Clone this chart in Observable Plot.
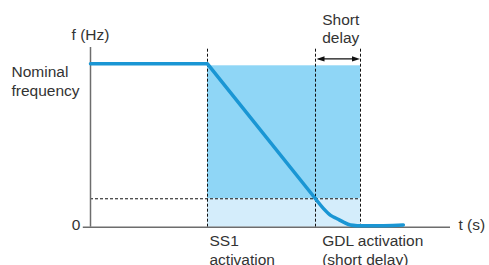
<!DOCTYPE html>
<html>
<head>
<meta charset="utf-8">
<script src="https://cdn.jsdelivr.net/npm/d3@7"></script>
<script src="https://cdn.jsdelivr.net/npm/@observablehq/plot@0.6"></script>
<style>
  html, body { margin: 0; padding: 0; background: #fff; }
</style>
</head>
<body>
<div id="chart"></div>
<script>
// ---- data (abstract units: t in s-units, f in Hz-units) ----
const nominalF = 50;
const thresholdF = 8.7;
const fillTopF = 49.4;
const arrowF = 51.5;
const tSS1 = 3.25;
const tGDL = 6.25;
const tDelayEnd = 7.5;
const tAxisEnd = 10;
const fAxisTop = 55;

const rampT = [0, 3.25, 6.25];
const rampF = [50, 50, 8.7];
const tailT = [6.25, 6.48, 6.67, 6.85, 7.04, 7.22, 8.69];
const tailF = [8.7, 5.6, 3.6, 2.6, 1.5, 0.7, 0.7];

const vLines = [tSS1, tGDL, tDelayEnd];

const ramp = rampT.map((t, i) => ({t, f: rampF[i]}));
const tail = tailT.map((t, i) => ({t, f: tailF[i]}));

const font = "Liberation Sans, Arial, Helvetica, sans-serif";
const txt = "#333";
const blue = "#1a96d4";

const headRight = { draw(ctx) { ctx.moveTo(0, 0); ctx.lineTo(-8, -2.6); ctx.lineTo(-8, 2.6); ctx.closePath(); } };
const headLeft  = { draw(ctx) { ctx.moveTo(0, 0); ctx.lineTo(8, -2.6); ctx.lineTo(8, 2.6); ctx.closePath(); } };

const chart = Plot.plot({
  width: 489,
  height: 265,
  marginLeft: 90,
  marginRight: 39,
  marginTop: 47,
  marginBottom: 38.3,
  x: {domain: [0, tAxisEnd], axis: null},
  y: {domain: [0, fAxisTop], axis: null},
  style: {fontFamily: font, fontSize: "15.5px", color: txt, background: "#fff"},
  marks: [
    Plot.rect([{x1: tSS1, x2: tDelayEnd, y1: thresholdF, y2: fillTopF}], {x1: "x1", x2: "x2", y1: "y1", y2: "y2", fill: "#8fd6f6"}),
    Plot.rect([{x1: tSS1, x2: tDelayEnd, y1: 0, y2: thresholdF}], {x1: "x1", x2: "x2", y1: "y1", y2: "y2", fill: "#d4edfb"}),
    Plot.ruleX(vLines, {y1: 0, y2: fAxisTop, stroke: "#111", strokeWidth: 1, strokeDasharray: "3,2"}),
    Plot.ruleY([thresholdF], {x1: 0, x2: tDelayEnd, stroke: "#111", strokeWidth: 1, strokeDasharray: "3,2"}),
    // axes
    Plot.ruleX([0], {y1: 0, y2: fAxisTop, stroke: "#6d6d6d", strokeWidth: 1.5}),
    Plot.ruleY([0], {x1: -0.2, x2: tAxisEnd, stroke: "#6d6d6d", strokeWidth: 1.5}),
    // frequency curve
    Plot.line(ramp, {x: "t", y: "f", stroke: blue, strokeWidth: 3.5, strokeLinejoin: "round"}),
    Plot.line(tail, {x: "t", y: "f", stroke: blue, strokeWidth: 3.5, curve: "catmull-rom", strokeLinecap: "round"}),
    // short delay arrow
    Plot.ruleY([arrowF], {x1: tGDL + 0.1, x2: tDelayEnd - 0.1, stroke: "#111", strokeWidth: 1.2}),
    Plot.dot([{t: tDelayEnd, f: arrowF}], {x: "t", y: "f", symbol: headRight, fill: "#111", stroke: "none", dx: -0.5}),
    Plot.dot([{t: tGDL, f: arrowF}], {x: "t", y: "f", symbol: headLeft, fill: "#111", stroke: "none", dx: 1}),
    // labels
    Plot.text(["f (Hz)"], {x: 0, y: fAxisTop, dy: -12, textAnchor: "middle", lineHeight: 1, fill: txt}),
    Plot.text(["Nominal\nfrequency"], {x: 0, y: nominalF, dx: -79, textAnchor: "start", lineAnchor: "top", lineHeight: 1.2, fill: txt}),
    Plot.text(["0"], {x: -0.2, y: 0, dx: -3, dy: -2, textAnchor: "end", lineHeight: 1, fill: txt}),
    Plot.text(["t (s)"], {x: tAxisEnd, y: 0, dx: 8, dy: -2, textAnchor: "start", lineHeight: 1, fill: txt}),
    Plot.text(["Short\ndelay"], {x: tGDL, y: fAxisTop, dx: 6.7, dy: -4.3, textAnchor: "start", lineAnchor: "bottom", lineHeight: 1.2, fill: txt}),
    Plot.text(["SS1\nactivation"], {x: tSS1, y: 0, dx: 2, dy: 6, textAnchor: "start", lineAnchor: "top", lineHeight: 1.2, fill: txt}),
    Plot.text(["GDL activation\n(short delay)"], {x: tGDL, y: 0, dx: 6.7, dy: 6, textAnchor: "start", lineAnchor: "top", lineHeight: 1.2, fill: txt})
  ]
});
document.getElementById("chart").appendChild(chart);
</script>
</body>
</html>
